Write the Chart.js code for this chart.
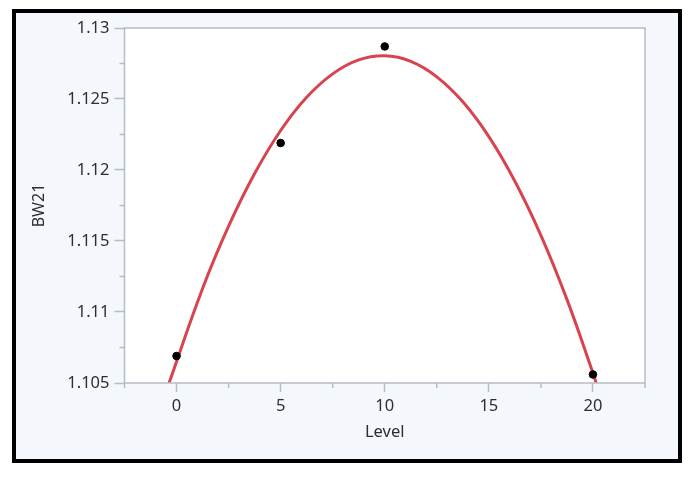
<!DOCTYPE html>
<html>
<head>
<meta charset="utf-8">
<script src="https://cdn.jsdelivr.net/npm/chart.js@4/dist/chart.umd.min.js"></script>
<style>
  html, body { margin: 0; padding: 0; background: #fff; }
  #frame {
    position: absolute; left: 12px; top: 9px; width: 662px; height: 446px;
    border: 4px solid #000; background: #f4f8fc;
  }
  #wrap { position: absolute; left: 0; top: 0; width: 691px; height: 480px; }
</style>
</head>
<body>
<div id="frame"></div>
<div id="wrap"><canvas id="chart" width="691" height="480"></canvas></div>
<script>
// observed points
const levels = [0, 5, 10, 20];
const bw21 = [1.1069, 1.1219, 1.1287, 1.1056];

// fitted curve
const fitX = [-0.36, 1.25, 2.5, 3.75, 5, 6.25, 7.5, 8.75, 10, 11.25, 12.5, 13.75, 15, 16.25, 17.5, 18.75, 20, 20.15];
const fitY = [1.1050, 1.11165, 1.11604, 1.11975, 1.12278, 1.12512, 1.12677, 1.12775, 1.12804, 1.12765, 1.12656, 1.1248, 1.12235, 1.11921, 1.1154, 1.11089, 1.10571, 1.1050];

// axes
const xMajor = [0, 5, 10, 15, 20];
const xMinor = [-2.5, 2.5, 7.5, 12.5, 17.5, 22.5];
const yMajor = [1.105, 1.11, 1.115, 1.12, 1.125, 1.13];
const yLabels = ["1.105", "1.11", "1.115", "1.12", "1.125", "1.13"];
const yMinor = [1.1075, 1.1125, 1.1175, 1.1225, 1.1275];

const axisColor = "#b4bcc4";
const textColor = "#2e2e2e";
const fontFamily = "'Noto Sans', 'Open Sans', sans-serif";

// white plot area + outline + minor ticks
const plotFrame = {
  id: "plotFrame",
  beforeDraw(chart){
    const {ctx, chartArea: a} = chart;
    ctx.save();
    ctx.fillStyle = "#fff";
    ctx.fillRect(a.left, a.top, a.right - a.left, a.bottom - a.top);
    ctx.restore();
  },
  afterDraw(chart){
    const {ctx, chartArea: a, scales} = chart;
    ctx.save();
    ctx.strokeStyle = axisColor;
    ctx.lineWidth = 1.5;
    ctx.strokeRect(a.left, a.top, a.right - a.left, a.bottom - a.top);
    ctx.beginPath();
    xMinor.forEach(v => {
      const px = scales.x.getPixelForValue(v);
      ctx.moveTo(px, a.bottom); ctx.lineTo(px, a.bottom + 5);
    });
    yMinor.forEach(v => {
      const py = scales.y.getPixelForValue(v);
      ctx.moveTo(a.left, py); ctx.lineTo(a.left - 5, py);
    });
    ctx.stroke();
    ctx.restore();
  }
};

new Chart(document.getElementById("chart"), {
  type: "scatter",
  data: {
    datasets: [
      {
        label: "fit",
        data: fitX.map((x, i) => ({x, y: fitY[i]})),
        showLine: true,
        borderColor: "#d7434e",
        borderWidth: 3,
        pointRadius: 0,
        tension: 0.4,
        order: 2
      },
      {
        label: "BW21",
        data: levels.map((x, i) => ({x, y: bw21[i]})),
        backgroundColor: "#000",
        borderColor: "#000",
        pointRadius: 3.8,
        order: 1
      }
    ]
  },
  options: {
    responsive: false,
    animation: false,
    layout: { padding: { left: 0, top: 28, right: 46, bottom: 0 } },
    plugins: { legend: { display: false }, tooltip: { enabled: false } },
    scales: {
      x: {
        type: "linear", min: -2.5, max: 22.5,
        afterBuildTicks: s => { s.ticks = xMajor.map(v => ({value: v})); },
        afterFit: s => { s.height = 97; },
        grid: { drawOnChartArea: false, tickLength: 9, tickColor: axisColor, tickWidth: 1.5 },
        border: { display: false },
        ticks: { color: textColor, padding: 4, maxRotation: 0, font: { family: fontFamily, size: 16.5 } },
        title: { display: true, text: "Level", color: textColor, padding: { top: 0, bottom: 38 }, font: { family: fontFamily, size: 16.5 } }
      },
      y: {
        type: "linear", min: 1.105, max: 1.13,
        afterBuildTicks: s => { s.ticks = yMajor.map(v => ({value: v})); },
        afterFit: s => { s.width = 124.5; },
        grid: { drawOnChartArea: false, tickLength: 10, tickColor: axisColor, tickWidth: 1.5 },
        border: { display: false },
        ticks: {
          color: textColor, padding: 5, font: { family: fontFamily, size: 16.5 },
          callback: (v, i) => yLabels[i]
        },
        title: { display: true, text: "BW21", color: textColor, padding: { top: 30, bottom: 0 }, font: { family: fontFamily, size: 16 } }
      }
    }
  },
  plugins: [plotFrame]
});
</script>
</body>
</html>
